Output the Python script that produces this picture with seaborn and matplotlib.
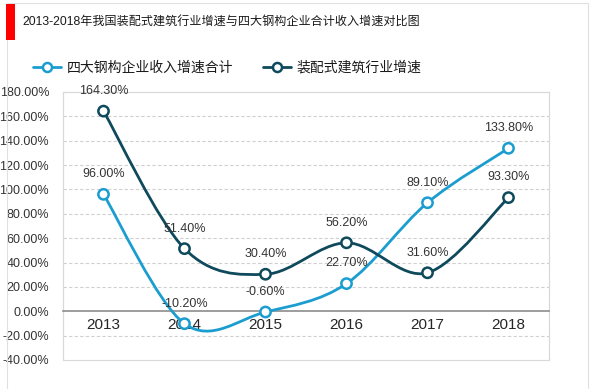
import numpy as np
import pandas as pd
import matplotlib
matplotlib.use("Agg")
import matplotlib.pyplot as plt
from matplotlib.path import Path
from matplotlib.patches import PathPatch, Rectangle
from matplotlib.lines import Line2D
import seaborn as sns

years = ["2013", "2014", "2015", "2016", "2017", "2018"]
steel_growth = [96.00, -10.20, -0.60, 22.70, 89.10, 133.80]      # 四大钢构企业收入增速合计
prefab_growth = [164.30, 51.40, 30.40, 56.20, 31.60, 93.30]      # 装配式建筑行业增速
series_names = ["四大钢构企业收入增速合计", "装配式建筑行业增速"]
y_ticks = [-40, -20, 0, 20, 40, 60, 80, 100, 120, 140, 160, 180]
title = "2013-2018年我国装配式建筑行业增速与四大钢构企业合计收入增速对比图"

colors = ["#1b9dd0", "#0e4a5c"]

sns.set_theme(style="white")
plt.rcParams["font.family"] = ["Liberation Sans", "Noto Sans CJK SC", "DejaVu Sans"]

fig = plt.figure(figsize=(6.0, 3.89), dpi=100)
W, H = 600, 389
ax = fig.add_axes([63 / W, 1 - 360 / H, (549 - 63) / W, (360 - 92) / H])

x = np.arange(len(years))
df = pd.DataFrame({
    "x": np.concatenate([x, x]),
    "value": steel_growth + prefab_growth,
    "series": [series_names[0]] * len(years) + [series_names[1]] * len(years),
})


def smooth_path(xs, ys):
    xs = np.asarray(xs, float)
    ys = np.asarray(ys, float)
    n = len(xs)
    verts = [(xs[0], ys[0])]
    codes = [Path.MOVETO]
    for i in range(n - 1):
        p0 = np.array([xs[max(i - 1, 0)], ys[max(i - 1, 0)]])
        p1 = np.array([xs[i], ys[i]])
        p2 = np.array([xs[i + 1], ys[i + 1]])
        p3 = np.array([xs[min(i + 2, n - 1)], ys[min(i + 2, n - 1)]])
        c1 = p1 + (p2 - p0) / 6.0
        c2 = p2 - (p3 - p1) / 6.0
        verts += [tuple(c1), tuple(c2), tuple(p2)]
        codes += [Path.CURVE4] * 3
    return Path(verts, codes)


for name, vals, c in zip(series_names, [steel_growth, prefab_growth], colors):
    ax.add_patch(PathPatch(smooth_path(x, vals), facecolor="none", edgecolor=c,
                           lw=2.0, zorder=3, capstyle="round", joinstyle="round"))

sns.scatterplot(data=df, x="x", y="value", hue="series", palette=colors,
                ax=ax, s=55, facecolor="white", linewidth=1.8, zorder=4, legend=False)
# make marker faces white with coloured edges
for coll in ax.collections:
    ec = coll.get_facecolors()
    coll.set_edgecolors(ec)
    coll.set_facecolors("white")

for vals in [steel_growth, prefab_growth]:
    for xi, v in zip(x, vals):
        ax.annotate(f"{v:.2f}%", (xi, v), xytext=(0, 14.5), textcoords="offset points",
                    ha="center", va="center", fontsize=9, color="#333333", zorder=5)

ax.set_xlim(-0.5, len(years) - 0.5)
ax.set_ylim(-40, 180)
ax.set_yticks(y_ticks)
ax.set_yticklabels([f"{t:.2f}%" for t in y_ticks], fontsize=9, color="#333333")
ax.set_xticks(x)
ax.set_xticklabels(years, fontsize=9, color="#333333")
ax.set_xlabel("")
ax.set_ylabel("")
ax.tick_params(axis="both", length=0)
ax.tick_params(axis="x", pad=5)
ax.tick_params(axis="y", pad=10)

for t in y_ticks:
    if t != 0 and t not in (-40, 180):
        ax.axhline(t, color="#d0d0d0", lw=0.8, ls=(0, (3, 2)), zorder=1)

for s in ["top", "left", "right"]:
    ax.spines[s].set_color("#d9d9d9")
    ax.spines[s].set_linewidth(0.8)
ax.spines["bottom"].set_position(("data", 0))
ax.spines["bottom"].set_color("#8c8c8c")
ax.spines["bottom"].set_linewidth(1.2)
ax.add_patch(Rectangle((0, 0), 1, 1, transform=ax.transAxes, fill=False,
                       edgecolor="#d9d9d9", lw=0.8, zorder=0, clip_on=False))

# outer frame and title bar
fig.add_artist(Rectangle((7 / W, -0.01), (588 - 7) / W, 1 - 3 / H + 0.01,
                         transform=fig.transFigure, fill=False, edgecolor="#e0e0e0", lw=0.8))
fig.add_artist(Rectangle((6 / W, 1 - 40 / H), 9 / W, 36 / H,
                         transform=fig.transFigure, facecolor="#ff0000", edgecolor="none"))
fig.text(22 / W, 1 - 23 / H, title, fontsize=8.7, color="#1a1a1a", va="center", ha="left")

handles = [Line2D([0], [0], color=c, lw=2.0, marker="o", markersize=6.5,
                  markerfacecolor="white", markeredgecolor=c, markeredgewidth=1.8)
           for c in colors]
fig.legend(handles, series_names, loc="center left", bbox_to_anchor=(33 / W, 1 - 68 / H),
           ncol=2, frameon=False, fontsize=10, handlelength=2.0, handletextpad=0.4,
           columnspacing=2.2, borderpad=0, borderaxespad=0,
           labelcolor="#1a1a1a")

fig.savefig("out.png", dpi=100)
